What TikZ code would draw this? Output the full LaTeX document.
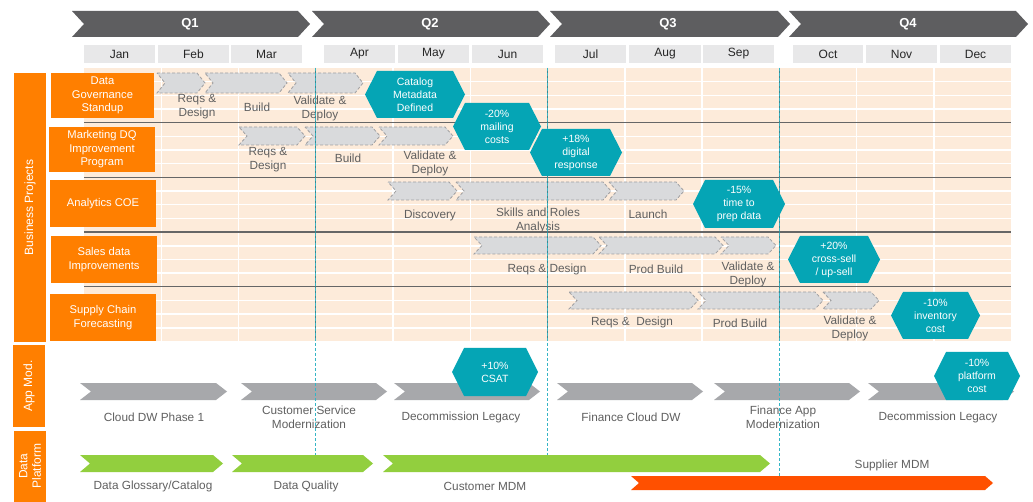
\documentclass[tikz,border=0pt]{standalone}
\usepackage{fontspec}
\setmainfont{Liberation Sans}
\definecolor{qgrey}{HTML}{5E5E60}
\definecolor{mgrey}{HTML}{E8E8E9}
\definecolor{peach}{HTML}{FDEBDA}
\definecolor{orng}{HTML}{FF7F00}
\definecolor{tealms}{HTML}{05A5B5}
\definecolor{tealline}{HTML}{35B5C5}
\definecolor{tealdark}{HTML}{3E8790}
\definecolor{gfill}{HTML}{D9DADC}
\definecolor{gline}{HTML}{A0A0A2}
\definecolor{agrey}{HTML}{A7A8AB}
\definecolor{lgreen}{HTML}{92CF3E}
\definecolor{redor}{HTML}{FF5000}
\definecolor{txtg}{HTML}{606060}
\definecolor{rowline}{HTML}{666666}
\newcommand{\chevshape}[6]{%
  \path[#1] (#2,#4) -- ({#3-#6},#4) -- (#3,{(#4+#5)/2}) -- ({#3-#6},#5) -- (#2,#5) -- ({#2+#6},{(#4+#5)/2}) -- cycle;}
\newcommand{\hexshape}[7]{%
  \fill[tealms] (#2,{(#4+#5)/2}) -- ({#2+#6},#4) -- ({#3-#6},#4) -- (#3,{(#4+#5)/2}) -- ({#3-#6},#5) -- ({#2+#6},#5) -- cycle;
  \node[hextext] (#1) at ({(#2+#3)/2},{(#4+#5)/2}) {#7};}
\tikzset{
  qchev/.style={fill=qgrey},
  gantt/.style={fill=gfill, draw=gline, dash pattern=on 3pt off 2pt, line width=0.8pt},
  appchev/.style={fill=agrey},
  greenchev/.style={fill=lgreen},
  redchev/.style={fill=redor},
  qtext/.style={text=white, font=\fontsize{13}{15}\selectfont\bfseries},
  lbl/.style={text=txtg, align=center, font=\fontsize{11.8}{14}\selectfont, inner sep=0pt},
  hextext/.style={text=white, align=center, font=\fontsize{10.5}{13}\selectfont, inner sep=0pt},
  projbox/.style={fill=orng, text=white, align=center, font=\fontsize{11.2}{13.5}\selectfont},
  sidebar/.style={fill=orng},
  sidetext/.style={text=white, align=center, rotate=90, font=\fontsize{12}{13.5}\selectfont, inner sep=0pt},
  qline/.style={draw=tealline, line width=1pt, dash pattern=on 3pt off 2pt},
  qlinein/.style={draw=tealdark, line width=0.8pt},
}
\begin{document}
\begin{tikzpicture}[x=1pt,y=-1pt]
\useasboundingbox (0,0) rectangle (1033,502);
\fill[white] (0,0) rectangle (1033,502);
% quarter chevrons
\chevshape{qchev}{72}{310}{11}{37}{12}
\chevshape{qchev}{312}{550}{11}{37}{12}
\chevshape{qchev}{550}{790}{11}{37}{12}
\chevshape{qchev}{789}{1028}{11}{37}{12}
\node[qtext] (q1) at (190,24) {Q1};
\node[qtext] (q2) at (430,24) {Q2};
\node[qtext] (q3) at (668,24) {Q3};
\node[qtext] (q4) at (908,24) {Q4};
% months
\foreach \xa/\xb/\m in {84/155/Jan,158/229/Feb,231/302/Mar,324/395/Apr,398/469/May,472/543/Jun,555/626/Jul,629/701/Aug,703/774/Sep,793/863/Oct,866/937/Nov,940/1011/Dec}{
  \fill[mgrey] (\xa,45) rectangle (\xb,63);
  \node[text=black!85, font=\fontsize{12}{14}\selectfont] (m\m) at ({(\xa+\xb)/2},54) {\m};
}
% peach area
\fill[peach] (84,68) rectangle (1011,341.5);
\foreach \k in {1,2,4,5,7,8,10,11}{
  \draw[white, line width=1.5pt] ({84+77.25*\k},68) -- ({84+77.25*\k},341.5);
}
\foreach \r in {0,1,2,3,4}{
  \foreach \q in {1,2,3}{
    \draw[white, line width=1.5pt] (84,{68+54.7*\r+13.675*\q}) -- (1011,{68+54.7*\r+13.675*\q});
  }
}
\foreach \r in {1,2,3,4}{
  \draw[rowline, line width=1.2pt] (84,{68+54.7*\r}) -- (1011,{68+54.7*\r});
}
% row 1 gantt
\chevshape{gantt}{157}{205}{73}{93}{8}
\chevshape{gantt}{205}{287}{73}{93}{8}
\chevshape{gantt}{288}{363}{73}{93}{8}
\node[lbl] (r1a) at (197,107) {Reqs \&\\Design};
\node[lbl] (r1b) at (257,107) {Build};
\node[lbl] (r1c) at (320,108) {Validate \&\\Deploy};
% row 2
\chevshape{gantt}{239}{305}{127}{145}{8}
\chevshape{gantt}{305}{380}{127}{145}{8}
\chevshape{gantt}{379}{453}{127}{145}{8}
\node[lbl] (r2a) at (268,160) {Reqs \&\\Design};
\node[lbl] (r2b) at (348,158) {Build};
\node[lbl] (r2c) at (430,163) {Validate \&\\Deploy};
% row 3
\chevshape{gantt}{388}{457}{182}{200}{8}
\chevshape{gantt}{456}{611}{182}{200}{8}
\chevshape{gantt}{609}{684}{182}{200}{8}
\node[lbl] (r3a) at (430,215) {Discovery};
\node[lbl] (r3b) at (538,220) {Skills and Roles\\Analysis};
\node[lbl] (r3c) at (648,214) {Launch};
% row 4
\chevshape{gantt}{474}{601}{237}{254}{8}
\chevshape{gantt}{599}{723}{237}{254}{8}
\chevshape{gantt}{721}{776}{237}{254}{8}
\node[lbl] (r4a) at (547,269) {Reqs \& Design};
\node[lbl] (r4b) at (656,269) {Prod Build};
\node[lbl] (r4c) at (748,274) {Validate \&\\Deploy};
% row 5
\chevshape{gantt}{569}{698}{292}{309}{8}
\chevshape{gantt}{698}{823}{292}{309}{8}
\chevshape{gantt}{823}{879}{292}{309}{8}
\node[lbl] (r5a) at (632,322) {Reqs \&~~Design};
\node[lbl] (r5b) at (740,323) {Prod Build};
\node[lbl] (r5c) at (850,328) {Validate \&\\Deploy};
% app mod chevrons
\chevshape{appchev}{80}{227}{383}{400}{11}
\chevshape{appchev}{241}{387}{383}{400}{11}
\chevshape{appchev}{394}{540}{383}{400}{11}
\chevshape{appchev}{557}{703}{383}{400}{11}
\chevshape{appchev}{714}{860}{383}{400}{11}
\chevshape{appchev}{868}{1014}{383}{400}{11}
\node[lbl] (a1) at (154,417) {Cloud DW Phase 1};
\node[lbl] (a2) at (309,417) {Customer Service\\Modernization};
\node[lbl] (a3) at (461,417) {Decommission Legacy};
\node[lbl] (a4) at (631,417) {Finance Cloud DW};
\node[lbl] (a5) at (783,417) {Finance App\\Modernization};
\node[lbl] (a6) at (938,417) {Decommission Legacy};
% data platform
\chevshape{greenchev}{80}{223}{455}{472}{10}
\chevshape{greenchev}{232}{373}{455}{472}{10}
\chevshape{greenchev}{383}{770}{455}{472}{10}
\chevshape{redchev}{631}{993}{476}{490}{8}
\node[lbl] (d1) at (153,486) {Data Glossary/Catalog};
\node[lbl] (d2) at (306,486) {Data Quality};
\node[lbl] (d3) at (485,486) {Customer MDM};
\node[lbl] (d4) at (892,465) {Supplier MDM};
% quarter dashed lines
\coordinate (l1t) at (315.75,68); \coordinate (l1m) at (315.75,341.5); \coordinate (l1b) at (315.75,455);
\coordinate (l2t) at (547.5,68); \coordinate (l2m) at (547.5,341.5); \coordinate (l2b) at (547.5,455);
\coordinate (l3t) at (779.25,68); \coordinate (l3m) at (779.25,341.5); \coordinate (l3b) at (779.25,476);
\draw[qlinein] (l1t) -- (l1m);
\draw[qlinein] (l2t) -- (l2m);
\draw[qlinein] (l3t) -- (l3m);
\draw[qline] (l1t) -- (l1b);
\draw[qline] (l2t) -- (l2b);
\draw[qline] (l3t) -- (l3b);
% milestones
\hexshape{h1}{365}{465}{71}{118}{12}{Catalog\\Metadata\\Defined}
\hexshape{h2}{453}{541}{103}{150}{12}{-20\%\\mailing\\costs}
\hexshape{h3}{530}{622}{129}{176}{12}{+18\%\\digital\\response}
\hexshape{h4}{693}{785}{180}{228}{12}{-15\%\\time to\\prep data}
\hexshape{h5}{788}{880}{236}{283}{12}{+20\%\\cross-sell\\/ up-sell}
\hexshape{h6}{891}{980}{292}{339}{12}{-10\%\\inventory\\cost}
\hexshape{h7}{452}{538}{348}{396}{12}{+10\%\\CSAT}
\hexshape{h8}{934}{1020}{352}{400}{12}{-10\%\\platform\\cost}
% project labels
\node[projbox, minimum width=103pt, minimum height=45pt] (p1) at (102.5,95.5) {Data\\Governance\\Standup};
\node[projbox, minimum width=106pt, minimum height=45pt] (p2) at (102,149.5) {Marketing DQ\\Improvement\\Program};
\node[projbox, minimum width=106pt, minimum height=47pt] (p3) at (103,203.5) {Analytics COE};
\node[projbox, minimum width=106pt, minimum height=47pt] (p4) at (104,259.5) {Sales data\\Improvements};
\node[projbox, minimum width=106pt, minimum height=47pt] (p5) at (103,317.5) {Supply Chain\\Forecasting};
% side bars
\fill[sidebar] (14,73) rectangle (46,342);
\fill[sidebar] (13,345) rectangle (45,427);
\fill[sidebar] (14,431) rectangle (46,502);
\node[sidetext] (s1) at (30,207.5) {Business Projects};
\node[sidetext] (s2) at (29,386) {App Mod.};
\node[sidetext] (s3) at (30,466) {Data\\Platform};
\end{tikzpicture}
\end{document}
